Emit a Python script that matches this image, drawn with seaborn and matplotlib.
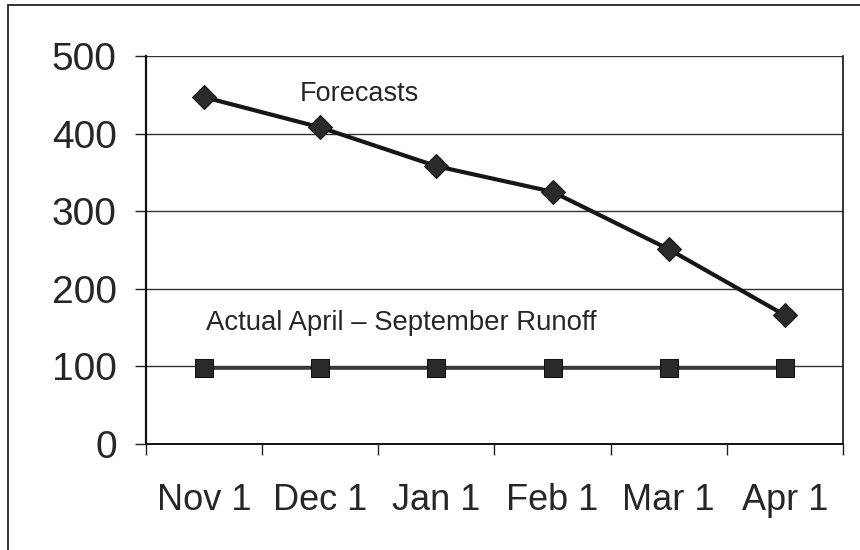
import pandas as pd
import seaborn as sns
import matplotlib.pyplot as plt
from matplotlib.lines import Line2D

# data
months = ['Nov 1', 'Dec 1', 'Jan 1', 'Feb 1', 'Mar 1', 'Apr 1']
forecasts = [447, 408, 358, 325, 251, 166]
actual = [98, 98, 98, 98, 98, 98]

df_fc = pd.DataFrame({'month': months, 'value': forecasts})
df_act = pd.DataFrame({'month': months, 'value': actual})

sns.set_style('white')
plt.rcParams['font.family'] = ['Liberation Sans', 'DejaVu Sans']

fig = plt.figure(figsize=(8.6, 5.5), dpi=100)
ax = fig.add_axes([146 / 860, 1 - 444 / 550, (843 - 146) / 860, (444 - 56) / 550])

# frame of the scanned chart: only left and top edges are inside the picture
fig.add_artist(Line2D([8 / 860, 8 / 860], [0, 1 - 5 / 550],
                      transform=fig.transFigure, color='#222222', linewidth=1.3))
fig.add_artist(Line2D([8 / 860, 1], [1 - 5 / 550, 1 - 5 / 550],
                      transform=fig.transFigure, color='#222222', linewidth=1.3))

sns.lineplot(data=df_act, x='month', y='value', ax=ax, color='#3a3a3a',
             linewidth=2.6, marker='s', markersize=12.5,
             markerfacecolor='#2a2a2a', markeredgecolor='#111111', zorder=3)
sns.lineplot(data=df_fc, x='month', y='value', ax=ax, color='#161616',
             linewidth=3.0, marker='D', markersize=12,
             markerfacecolor='#2a2a2a', markeredgecolor='#111111', zorder=3)

ax.set_xlim(-0.5, 5.5)
ax.set_ylim(0, 500)
ax.set_yticks([0, 100, 200, 300, 400, 500])
ax.set_xticks(range(len(months)))
ax.set_xticklabels(months)
ax.set_xticks([i - 0.5 for i in range(len(months) + 1)], minor=True)
ax.tick_params(axis='x', which='major', length=0, pad=28, labelsize=26)
ax.tick_params(axis='x', which='minor', length=8, width=1, color='#222222',
               direction='out', bottom=True)
ax.tick_params(axis='y', length=8, width=1, color='#222222', direction='out',
               left=True, labelsize=28, pad=13)
ax.set_xlabel('')
ax.set_ylabel('')

ax.grid(axis='y', color='#333333', linewidth=1.0)
ax.set_axisbelow(True)
for side in ['left', 'bottom', 'right']:
    ax.spines[side].set_visible(True)
    ax.spines[side].set_color('#111111')
ax.spines['left'].set_linewidth(1.6)
ax.spines['bottom'].set_linewidth(1.4)
ax.spines['right'].set_linewidth(1.2)
ax.spines['top'].set_visible(False)

ax.text(1.34, 451, 'Forecasts', fontsize=19.5, ha='center', va='center')
ax.text(1.70, 156, 'Actual April \u2013 September Runoff', fontsize=19.8,
        ha='center', va='center')

fig.savefig('out.png', dpi=100)
